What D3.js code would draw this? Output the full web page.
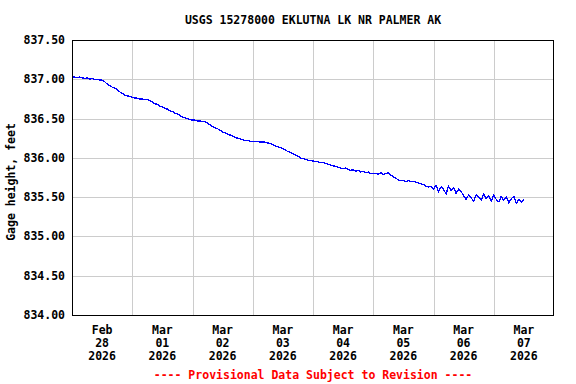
<!DOCTYPE html>
<html><head><meta charset="utf-8">
<script src="https://cdn.jsdelivr.net/npm/d3@7"></script>
<style>body{margin:0;background:#fff}svg{display:block}text{font-family:"DejaVu Sans Mono",monospace;font-weight:bold}</style>
</head><body><svg id="c" width="576" height="384"></svg>
<script>
const title = "USGS 15278000 EKLUTNA LK NR PALMER AK";
const yLabel = "Gage height, feet";
const footer = "---- Provisional Data Subject to Revision ----";
const yTicks = [834.0, 834.5, 835.0, 835.5, 836.0, 836.5, 837.0, 837.5];
const dayStarts = ["2026-02-28","2026-03-01","2026-03-02","2026-03-03","2026-03-04","2026-03-05","2026-03-06","2026-03-07","2026-03-08"];
const dayLabels = [["Feb","28","2026"],["Mar","01","2026"],["Mar","02","2026"],["Mar","03","2026"],["Mar","04","2026"],["Mar","05","2026"],["Mar","06","2026"],["Mar","07","2026"]];
// hourly gage heights, starting 2026-02-28 00:00
const feb28 = [837.03,837.03,837.02,837.03,837.02,837.01,837.02,837.00,837.01,837.00,837.00,836.99,836.99,836.97,836.94,836.92,836.90,836.89,836.87,836.84,836.82,836.80,836.79,836.78];
const mar01 = [836.77,836.76,836.76,836.75,836.75,836.74,836.74,836.73,836.71,836.69,836.68,836.66,836.65,836.63,836.62,836.60,836.59,836.57,836.56,836.54,836.52,836.51,836.50,836.49];
const mar02 = [836.48,836.48,836.47,836.47,836.46,836.46,836.44,836.42,836.40,836.38,836.37,836.35,836.33,836.32,836.30,836.29,836.28,836.26,836.25,836.24,836.23,836.22,836.22,836.21];
const mar03 = [836.21,836.21,836.21,836.20,836.20,836.20,836.19,836.18,836.17,836.15,836.14,836.13,836.12,836.10,836.08,836.07,836.05,836.04,836.02,836.00,835.99,835.98,835.97,835.97];
const mar04 = [835.96,835.95,835.95,835.94,835.94,835.93,835.92,835.91,835.90,835.89,835.88,835.87,835.86,835.87,835.85,835.84,835.85,835.83,835.84,835.82,835.83,835.81,835.82,835.80];
const mar05 = [835.80,835.80,835.79,835.81,835.79,835.80,835.81,835.78,835.76,835.74,835.72,835.71,835.71,835.70,835.71,835.70,835.70,835.69,835.68,835.67,835.66,835.64,835.63,835.64];
const mar06 = [835.60,835.65,835.57,835.63,835.60,835.54,835.64,835.58,835.62,835.55,835.60,835.57,835.52,835.47,835.53,835.49,835.45,835.53,835.50,835.46,835.54,835.48,835.52,835.45];
const mar07 = [835.53,835.47,835.44,835.51,835.46,835.50,835.43,835.48,835.51,835.42,835.47,835.44,835.47];

const series = [].concat(feb28, mar01, mar02, mar03, mar04, mar05, mar06, mar07);
const t0 = new Date(2026,1,28,0,0,0);
const data = series.map((v,i)=>({t:new Date(t0.getTime()+i*3600e3), v}));

const svg = d3.select("#c");
const L=72, R=554, T=40, B=315;
const x = d3.scaleTime().domain([new Date(2026,1,28), new Date(2026,2,8)]).range([L,R]);
const y = d3.scaleLinear().domain([834,837.5]).range([B,T]);
const days = dayStarts.map(s=>{const [a,b,c]=s.split("-").map(Number);return new Date(a,b-1,c);});

const g = svg.append("g");
// grid
g.selectAll("line.h").data(yTicks).join("line")
 .attr("x1",L).attr("x2",R).attr("y1",d=>Math.round(y(d))+0.5).attr("y2",d=>Math.round(y(d))+0.5)
 .attr("stroke","#cccccc").attr("stroke-width",1);
g.selectAll("line.v").data(days.slice(1,-1)).join("line")
 .attr("y1",T).attr("y2",B).attr("x1",d=>Math.round(x(d))+0.5).attr("x2",d=>Math.round(x(d))+0.5)
 .attr("stroke","#cccccc").attr("stroke-width",1);

// data line
const line = d3.line().x(d=>x(d.t)).y(d=>y(d.v));
g.append("path").datum(data).attr("d",line).attr("fill","none").attr("stroke","#0000ff").attr("stroke-width",1.3).attr("shape-rendering","crispEdges");

// frame
g.append("rect").attr("x",L+0.5).attr("y",T+0.5).attr("width",R-L-1).attr("height",B-T).attr("fill","none").attr("stroke","#000").attr("stroke-width",1);

// y tick labels
svg.selectAll("text.yt").data(yTicks).join("text")
 .attr("x",65).attr("y",d=>y(d)+4).attr("text-anchor","end").attr("font-size",11.5).attr("fill","#000")
 .text(d=>d3.format(".2f")(d));

// x labels
const mids = days.slice(0,-1).map(d=>new Date(d.getTime()+12*3600e3));
dayLabels.forEach((lab,i)=>{
  lab.forEach((s,j)=>{
    svg.append("text").attr("x",x(mids[i])).attr("y",334+j*13).attr("text-anchor","middle")
      .attr("font-size",11.5).attr("fill","#000").text(s);
  });
});

// title
svg.append("text").attr("x",(L+R)/2).attr("y",24).attr("text-anchor","middle").attr("font-size",11.5).attr("fill","#000").text(title);
// y label
svg.append("text").attr("transform","translate(15,182) rotate(-90)").attr("text-anchor","middle").attr("font-size",11.5).attr("fill","#000").text(yLabel);
// footer
svg.append("text").attr("x",313).attr("y",379).attr("text-anchor","middle").attr("font-size",11.5).attr("fill","#ff0000").text(footer);
</script></body></html>
